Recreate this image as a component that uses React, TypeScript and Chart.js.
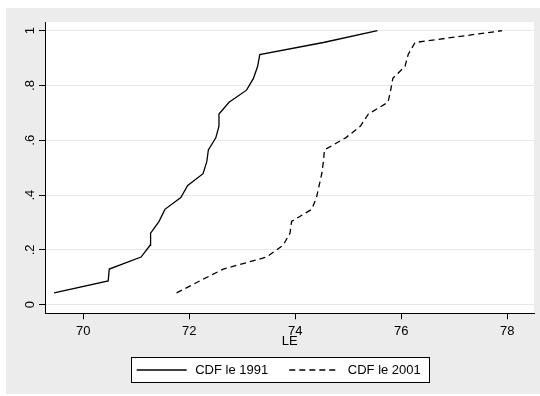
import React, { useEffect, useRef } from 'react';
import { Chart, registerables } from 'chart.js';

Chart.register(...registerables);

// ---- data ----
const cdfLevels = [0.043, 0.087, 0.130, 0.174, 0.217, 0.261, 0.304, 0.348, 0.391, 0.435, 0.478, 0.522, 0.565, 0.609, 0.652, 0.696, 0.739, 0.783, 0.826, 0.870, 0.913, 0.957, 1.0];
const le1991 = [69.45, 70.47, 70.49, 71.09, 71.26, 71.27, 71.43, 71.54, 71.84, 71.97, 72.26, 72.33, 72.36, 72.5, 72.56, 72.56, 72.75, 73.08, 73.21, 73.29, 73.33, 74.53, 75.55];
const le2001 = [71.76, 72.2, 72.64, 73.46, 73.77, 73.9, 73.93, 74.31, 74.4, 74.45, 74.5, 74.53, 74.55, 74.95, 75.23, 75.38, 75.75, 75.8, 75.84, 76.07, 76.13, 76.26, 77.9];
const seriesLabels = ['CDF le 1991', 'CDF le 2001'];
const xTicks = [70, 72, 74, 76, 78];
const yTicks = [0, 0.2, 0.4, 0.6, 0.8, 1];
const xTitle = 'LE';

const FONT = 'Liberation Sans';

const bgPlugin = {
  id: 'stataBg',
  beforeDraw(chart: any) {
    const { ctx, chartArea } = chart;
    ctx.save();
    ctx.fillStyle = '#ffffff';
    ctx.fillRect(0, 0, chart.width, chart.height);
    ctx.fillStyle = '#ececec';
    ctx.fillRect(6, 8, chart.width - 6, chart.height - 10);
    ctx.fillStyle = '#ffffff';
    ctx.fillRect(chartArea.left, chartArea.top, chartArea.right - chartArea.left, chartArea.bottom - chartArea.top);
    ctx.restore();
  },
};

const legendPlugin = {
  id: 'stataLegend',
  afterDraw(chart: any) {
    const { ctx } = chart;
    const box = { x: 131.5, y: 357.5, w: 298, h: 25 };
    ctx.save();
    ctx.fillStyle = '#ffffff';
    ctx.fillRect(box.x, box.y, box.w, box.h);
    ctx.strokeStyle = '#000000';
    ctx.lineWidth = 1;
    ctx.setLineDash([]);
    ctx.strokeRect(box.x, box.y, box.w, box.h);
    const cy = box.y + box.h / 2;
    const itemX = [136.7, 289.3];
    chart.data.datasets.forEach((ds: any, i: number) => {
      const x0 = itemX[i];
      ctx.beginPath();
      ctx.strokeStyle = ds.borderColor;
      ctx.lineWidth = ds.borderWidth;
      ctx.setLineDash(ds.borderDash || []);
      ctx.moveTo(x0, cy);
      ctx.lineTo(x0 + 50, cy);
      ctx.stroke();
      ctx.setLineDash([]);
      ctx.fillStyle = '#000000';
      ctx.font = `13px "${FONT}"`;
      ctx.textBaseline = 'middle';
      ctx.textAlign = 'left';
      ctx.fillText(ds.label, x0 + 58.5, cy + 0.5);
    });
    ctx.restore();
  },
};

export default function App() {
  const ref = useRef<HTMLCanvasElement>(null);

  useEffect(() => {
    document.body.style.margin = '0';
    if (!ref.current) return;
    const toPts = (xs: number[]) => xs.map((x, i) => ({ x, y: cdfLevels[i] }));
    const chart = new Chart(ref.current, {
      type: 'line',
      data: {
        datasets: [
          {
            label: seriesLabels[0],
            data: toPts(le1991),
            borderColor: '#000000',
            borderWidth: 1.3,
            borderDash: [],
            pointRadius: 0,
            fill: false,
            tension: 0,
          },
          {
            label: seriesLabels[1],
            data: toPts(le2001),
            borderColor: '#000000',
            borderWidth: 1.3,
            borderDash: [6, 4],
            pointRadius: 0,
            fill: false,
            tension: 0,
          },
        ],
      },
      options: {
        responsive: false,
        animation: false,
        devicePixelRatio: 1,
        layout: { padding: { top: 22, right: 6, left: 0, bottom: 46.5 } },
        plugins: { legend: { display: false }, tooltip: { enabled: false } },
        scales: {
          x: {
            type: 'linear',
            min: 69.287,
            max: 78.504,
            afterBuildTicks: (s: any) => {
              s.ticks = xTicks.map((v) => ({ value: v }));
            },
            afterFit: (s: any) => {
              s.height = 36.2;
            },
            grid: { drawOnChartArea: false, drawTicks: true, tickLength: 6, color: '#000000', lineWidth: 1 },
            border: { color: '#000000', width: 1 },
            ticks: {
              color: '#000000',
              font: { family: FONT, size: 13 },
              padding: 4.5,
              maxRotation: 0,
              autoSkip: false,
              callback: (v: any) => String(v),
            },
            title: {
              display: true,
              text: xTitle,
              color: '#000000',
              font: { family: FONT, size: 13 },
              padding: { top: 0, bottom: 0 },
            },
          },
          y: {
            type: 'linear',
            min: -0.0314,
            max: 1.0318,
            afterBuildTicks: (s: any) => {
              s.ticks = yTicks.map((v) => ({ value: v }));
            },
            afterFit: (s: any) => {
              s.width = 45.5;
            },
            grid: { color: '#e8e8e8', tickColor: '#000000', tickLength: 6.5, lineWidth: 1, drawTicks: true },
            border: { color: '#000000', width: 1 },
            ticks: {
              color: '#000000',
              font: { family: FONT, size: 13 },
              minRotation: 90,
              maxRotation: 90,
              crossAlign: 'center',
              padding: 3.6,
              autoSkip: false,
              callback: (v: any) => (v === 0 ? '0' : v === 1 ? '1' : '.' + Math.round(v * 10)),
            },
          },
        },
      },
      plugins: [bgPlugin, legendPlugin],
    } as any);
    return () => chart.destroy();
  }, []);

  return <canvas ref={ref} width={540} height={396} style={{ display: 'block' }} />;
}
